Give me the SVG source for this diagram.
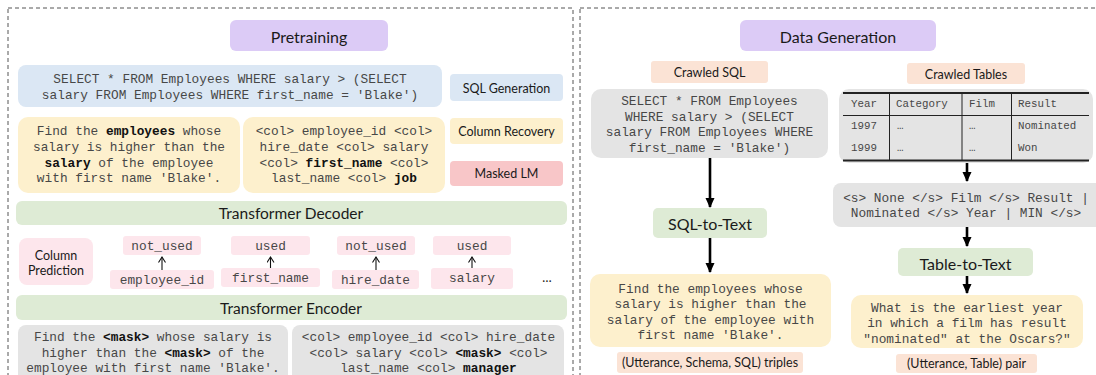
<svg xmlns="http://www.w3.org/2000/svg" width="1096" height="375" viewBox="0 0 1096 375">
  <defs>
    <style>
      .panel{fill:none;stroke:#555;stroke-width:1;stroke-dasharray:4 3}
      .lbl{font-family:Lato,"Open Sans","Liberation Sans",sans-serif;fill:#1a1a1a;text-anchor:middle;dominant-baseline:central}
      .title{font-size:16px}
      .big{font-size:15.5px}
      .small{font-size:12.5px}
      .mono{font-family:"Courier New","Nimbus Mono PS",FreeMono,"Liberation Mono",monospace;font-size:12.8px;fill:#474747;text-anchor:middle;dominant-baseline:central}
      .tbl{font-family:"Courier New","Nimbus Mono PS",FreeMono,"Liberation Mono",monospace;font-size:10.8px;fill:#474747;dominant-baseline:central}
      .b{font-weight:bold;fill:#111}
      .purple{fill:#dccbf6}
      .blue{fill:#dbe7f4}
      .yellow{fill:#fdf0cd}
      .red{fill:#f8c6c8}
      .green{fill:#deebd5}
      .pink{fill:#fde6ec}
      .gray{fill:#e4e4e4}
      .peach{fill:#fbe3d5}
      .flow{stroke:#000;stroke-width:2.6;fill:none}
      .tick{stroke:#111;stroke-width:1.1;fill:none}
      .rule{stroke:#222;fill:none}
    </style>
    <marker id="head" markerUnits="userSpaceOnUse" markerWidth="10" markerHeight="10" refX="9" refY="5" orient="auto">
      <path d="M0,0.5 L10,5 L0,9.5 z" fill="#000"/>
    </marker>
    <marker id="chev" markerUnits="userSpaceOnUse" markerWidth="8" markerHeight="10" refX="6" refY="4" orient="auto">
      <path d="M0.5,0.5 L6,4 L0.5,7.5" fill="none" stroke="#111" stroke-width="1.1"/>
    </marker>
  </defs>

  <!-- dashed panels -->
  <rect class="panel" x="8" y="8" width="565" height="400"/>
  <rect class="panel" x="580" y="8" width="530" height="400"/>

  <!-- ===== Pretraining panel ===== -->
  <g id="pretraining">
    <rect class="purple" x="230" y="20" width="158" height="31" rx="6"/>
    <text class="lbl title" x="309" y="36">Pretraining</text>
  </g>

  <g id="sql-input">
    <rect class="blue" x="18" y="65" width="424" height="42" rx="8"/>
    <text class="mono" x="230" y="79">SELECT * FROM Employees WHERE salary &gt; (SELECT</text>
    <text class="mono" x="230" y="95">salary FROM Employees WHERE first_name = 'Blake')</text>
  </g>

  <g id="sql-generation">
    <rect class="blue" x="450" y="74" width="113" height="27" rx="4"/>
    <text class="lbl small" x="506.5" y="88">SQL Generation</text>
  </g>

  <g id="utterance-input">
    <rect class="yellow" x="18" y="117" width="222" height="76" rx="10"/>
    <text class="mono" x="129" y="131">Find the <tspan class="b">employees</tspan> whose</text>
    <text class="mono" x="129" y="147">salary is higher than the</text>
    <text class="mono" x="129" y="163"><tspan class="b">salary</tspan> of the employee</text>
    <text class="mono" x="129" y="178">with first name 'Blake'.</text>
  </g>

  <g id="schema-input">
    <rect class="yellow" x="243" y="117" width="202" height="76" rx="10"/>
    <text class="mono" x="344" y="131">&lt;col&gt; employee_id &lt;col&gt;</text>
    <text class="mono" x="344" y="147">hire_date &lt;col&gt; salary</text>
    <text class="mono" x="344" y="163">&lt;col&gt; <tspan class="b">first_name</tspan> &lt;col&gt;</text>
    <text class="mono" x="344" y="178">last_name &lt;col&gt; <tspan class="b">job</tspan></text>
  </g>

  <g id="column-recovery">
    <rect class="yellow" x="450" y="118" width="113" height="26" rx="4"/>
    <text class="lbl small" x="506.5" y="131">Column Recovery</text>
  </g>

  <g id="masked-lm">
    <rect class="red" x="450" y="161" width="113" height="25" rx="4"/>
    <text class="lbl small" x="506.5" y="173.5">Masked LM</text>
  </g>

  <g id="transformer-decoder">
    <rect class="green" x="16" y="201" width="551" height="24" rx="6"/>
    <text class="lbl big" x="291" y="213">Transformer Decoder</text>
  </g>

  <g id="column-prediction">
    <rect class="pink" x="19" y="238" width="74" height="47" rx="8"/>
    <text class="lbl small" x="56" y="255">Column</text>
    <text class="lbl small" x="56" y="270">Prediction</text>
  </g>

  <g id="label-1">
    <rect class="pink" x="123" y="236" width="78" height="19" rx="3"/>
    <text class="mono" x="162" y="246">not_used</text>
  </g>
  <g id="col-1">
    <rect class="pink" x="110" y="270" width="104" height="19" rx="3"/>
    <text class="mono" x="162" y="280">employee_id</text>
  </g>
  <g id="label-2">
    <rect class="pink" x="231" y="236" width="79" height="19" rx="3"/>
    <text class="mono" x="270.5" y="246">used</text>
  </g>
  <g id="col-2">
    <rect class="pink" x="221" y="268" width="99" height="19" rx="3"/>
    <text class="mono" x="270.5" y="278">first_name</text>
  </g>
  <g id="label-3">
    <rect class="pink" x="337" y="236" width="78" height="19" rx="3"/>
    <text class="mono" x="376" y="246">not_used</text>
  </g>
  <g id="col-3">
    <rect class="pink" x="332" y="270" width="87" height="19" rx="3"/>
    <text class="mono" x="375.5" y="280">hire_date</text>
  </g>
  <g id="label-4">
    <rect class="pink" x="433" y="236" width="78" height="19" rx="3"/>
    <text class="mono" x="472" y="246">used</text>
  </g>
  <g id="col-4">
    <rect class="pink" x="431" y="268" width="82" height="21" rx="3"/>
    <text class="mono" x="472" y="278.5">salary</text>
  </g>
  <g id="more-columns">
    <text class="lbl small" x="547" y="277">…</text>
  </g>

  <g id="transformer-encoder">
    <rect class="green" x="16" y="295" width="551" height="25" rx="6"/>
    <text class="lbl big" x="291" y="307.5">Transformer Encoder</text>
  </g>

  <g id="masked-utterance">
    <rect class="gray" x="18" y="325" width="270" height="62" rx="8"/>
    <text class="mono" x="153" y="337">Find the <tspan class="b">&lt;mask&gt;</tspan> whose salary is</text>
    <text class="mono" x="153" y="353">higher than the <tspan class="b">&lt;mask&gt;</tspan> of the</text>
    <text class="mono" x="153" y="368">employee with first name 'Blake'.</text>
  </g>

  <g id="masked-schema">
    <rect class="gray" x="292" y="325" width="272" height="62" rx="8"/>
    <text class="mono" x="428.5" y="337">&lt;col&gt; employee_id &lt;col&gt; hire_date</text>
    <text class="mono" x="428.5" y="353">&lt;col&gt; salary &lt;col&gt; <tspan class="b">&lt;mask&gt;</tspan> &lt;col&gt;</text>
    <text class="mono" x="428.5" y="368">last_name &lt;col&gt; <tspan class="b">manager</tspan></text>
  </g>

  <!-- ===== Data Generation panel ===== -->
  <g id="data-generation">
    <rect class="purple" x="740" y="20" width="196" height="31" rx="6"/>
    <text class="lbl title" x="838" y="36">Data Generation</text>
  </g>

  <g id="crawled-sql">
    <rect class="peach" x="651" y="61" width="117" height="22" rx="3"/>
    <text class="lbl small" x="709.5" y="72">Crawled SQL</text>
  </g>

  <g id="crawled-tables">
    <rect class="peach" x="907" y="63" width="118" height="21" rx="3"/>
    <text class="lbl small" x="966" y="74">Crawled Tables</text>
  </g>

  <g id="sql-query">
    <rect class="gray" x="591" y="89" width="237" height="69" rx="10"/>
    <text class="mono" x="709.5" y="101">SELECT * FROM Employees</text>
    <text class="mono" x="709.5" y="117">WHERE salary &gt; (SELECT</text>
    <text class="mono" x="709.5" y="132">salary FROM Employees WHERE</text>
    <text class="mono" x="709.5" y="148">first_name = 'Blake')</text>
  </g>

  <g id="sql-to-text">
    <rect class="green" x="653" y="208" width="114" height="30" rx="5"/>
    <text class="lbl title" x="710" y="223.5">SQL-to-Text</text>
  </g>

  <g id="generated-utterance">
    <rect class="yellow" x="590" y="274" width="241" height="73" rx="10"/>
    <text class="mono" x="710.5" y="289">Find the employees whose</text>
    <text class="mono" x="710.5" y="304">salary is higher than the</text>
    <text class="mono" x="710.5" y="320">salary of the employee with</text>
    <text class="mono" x="710.5" y="335">first name 'Blake'.</text>
  </g>

  <g id="triples">
    <rect class="peach" x="617" y="352" width="186" height="21" rx="3"/>
    <text class="lbl small" x="710" y="362.5">(Utterance, Schema, SQL) triples</text>
  </g>

  <g id="web-table">
    <rect class="gray" x="839" y="89" width="254" height="74" rx="10"/>
    <line class="rule" x1="843" y1="93" x2="1089" y2="93" stroke-width="1.8"/>
    <line class="rule" x1="843" y1="115.5" x2="1089" y2="115.5" stroke-width="1.2"/>
    <line class="rule" x1="843" y1="160.5" x2="1089" y2="160.5" stroke-width="1.8"/>
    <line class="rule" x1="889.5" y1="93" x2="889.5" y2="160.5" stroke-width="1"/>
    <line class="rule" x1="962" y1="93" x2="962" y2="160.5" stroke-width="1"/>
    <line class="rule" x1="1011.5" y1="93" x2="1011.5" y2="160.5" stroke-width="1"/>
    <text class="tbl" x="851" y="104">Year</text>
    <text class="tbl" x="896" y="104">Category</text>
    <text class="tbl" x="969" y="104">Film</text>
    <text class="tbl" x="1018" y="104">Result</text>
    <text class="tbl" x="851" y="126">1997</text>
    <text class="tbl" x="897" y="126" font-size="8">…</text>
    <text class="tbl" x="969" y="126" font-size="8">…</text>
    <text class="tbl" x="1018" y="126">Nominated</text>
    <text class="tbl" x="851" y="148">1999</text>
    <text class="tbl" x="897" y="148" font-size="8">…</text>
    <text class="tbl" x="969" y="148" font-size="8">…</text>
    <text class="tbl" x="1018" y="148">Won</text>
  </g>

  <g id="linearized-table">
    <rect class="gray" x="833" y="183" width="270" height="44" rx="8"/>
    <text class="mono" x="966" y="198">&lt;s&gt; None &lt;/s&gt; Film &lt;/s&gt; Result |</text>
    <text class="mono" x="966" y="213">Nominated &lt;/s&gt; Year | MIN &lt;/s&gt;</text>
  </g>

  <g id="table-to-text">
    <rect class="green" x="898" y="248" width="135" height="28" rx="5"/>
    <text class="lbl title" x="965.5" y="263">Table-to-Text</text>
  </g>

  <g id="generated-question">
    <rect class="yellow" x="851" y="295" width="232" height="53" rx="10"/>
    <text class="mono" x="967" y="308">What is the earliest year</text>
    <text class="mono" x="967" y="323">in which a film has result</text>
    <text class="mono" x="967" y="339">"nominated" at the Oscars?"</text>
  </g>

  <g id="pair">
    <rect class="peach" x="896" y="354" width="141" height="19" rx="3"/>
    <text class="lbl small" x="966.5" y="363.5">(Utterance, Table) pair</text>
  </g>

  <!-- connectors -->
  <g id="connectors">
    <line class="tick" x1="162" y1="270" x2="162" y2="257" marker-end="url(#chev)"/>
    <line class="tick" x1="270.5" y1="268" x2="270.5" y2="257" marker-end="url(#chev)"/>
    <line class="tick" x1="376" y1="270" x2="376" y2="257" marker-end="url(#chev)"/>
    <line class="tick" x1="472" y1="268" x2="472" y2="257" marker-end="url(#chev)"/>

    <line class="flow" x1="710" y1="158" x2="710" y2="207" marker-end="url(#head)"/>
    <line class="flow" x1="710" y1="238" x2="710" y2="272" marker-end="url(#head)"/>
    <line class="flow" x1="967" y1="163" x2="967" y2="181" marker-end="url(#head)"/>
    <line class="flow" x1="967" y1="227" x2="967" y2="246" marker-end="url(#head)"/>
    <line class="flow" x1="967" y1="276" x2="967" y2="293" marker-end="url(#head)"/>
  </g>
</svg>
